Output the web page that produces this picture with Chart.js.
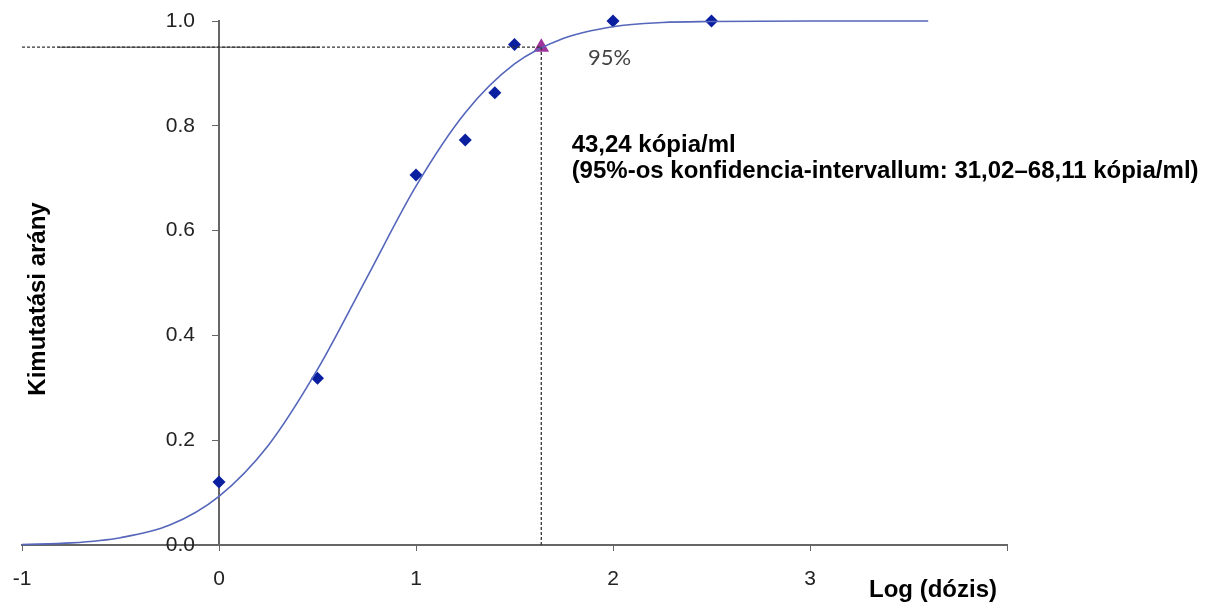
<!DOCTYPE html>
<html>
<head>
<meta charset="utf-8">
<script src="https://cdn.jsdelivr.net/npm/chart.js@4.4.0/dist/chart.umd.min.js"></script>
<style>
  body { margin: 0; background: #fff; }
  #wrap { width: 1206px; height: 603px; }
</style>
</head>
<body>
<div id="wrap"><canvas id="probit" width="1206" height="603"></canvas></div>
<script>
// fitted probit curve
const curveX = [-1, -0.75, -0.5, -0.25, 0, 0.25, 0.5, 0.75, 1, 1.25, 1.5, 1.75, 2, 2.25, 2.5, 3, 3.6];
const curveY = [0.001, 0.004, 0.014, 0.038, 0.093, 0.19, 0.335, 0.51, 0.685, 0.825, 0.918, 0.967, 0.989, 0.997, 0.999, 1.0, 1.0];

// measured hit rates
const logDose = [0, 0.5, 1, 1.25, 1.4, 1.5, 2, 2.5];
const hitRate = [0.12, 0.318, 0.706, 0.773, 0.863, 0.955, 1.0, 1.0];

// 95% point (log10 43,24)
const lodX = [1.636];
const lodY = [0.95];

const xMin = -1, xMax = 4;
const yMin = 0, yMax = 1;

const FONT = "'Liberation Sans', Arial, sans-serif";

// y axis sits at x=0, push its labels away from the line
const yLabelShift = {
  id: "yLabelShift",
  beforeDraw(chart) {
    const items = chart.scales.y.getLabelItems();
    if (items._shifted) return;
    items.forEach((it) => { it.options.translation[0] -= 24; });
    items._shifted = true;
  }
};

const textPlugin = {
  id: "texts",
  afterDraw(chart) {
    const ctx = chart.ctx;
    const xs = chart.scales.x, ys = chart.scales.y;
    ctx.save();
    ctx.fillStyle = "#000";
    ctx.textBaseline = "alphabetic";
    ctx.textAlign = "left";

    ctx.font = "bold 24px " + FONT;
    ctx.fillText("43,24 kópia/ml", xs.getPixelForValue(1.79), ys.getPixelForValue(0.75));
    ctx.fillText("(95%-os konfidencia-intervallum: 31,02–68,11 kópia/ml)", xs.getPixelForValue(1.79), ys.getPixelForValue(0.70));

    ctx.font = "22px Lato, 'Open Sans', sans-serif";
    ctx.fillStyle = "#444";
    ctx.textBaseline = "middle";
    ctx.fillText("95%", xs.getPixelForValue(1.873), ys.getPixelForValue(0.929));

    // axis titles
    ctx.fillStyle = "#000";
    ctx.font = "bold 24px " + FONT;
    ctx.textAlign = "center";
    ctx.textBaseline = "alphabetic";
    ctx.fillText("Log (dózis)", 933, 597);

    ctx.translate(38, 299);
    ctx.rotate(-Math.PI / 2);
    ctx.textBaseline = "middle";
    ctx.fillText("Kimutatási arány", 0, 0);
    ctx.restore();
  }
};

const data = {
  datasets: [
    {
      label: "ref-h",
      data: [{ x: xMin, y: lodY[0] }, { x: lodX[0], y: lodY[0] }],
      borderColor: "#333",
      borderWidth: 1.3,
      borderDash: [3, 2],
      pointRadius: 0,
      clip: false,
    },
    {
      label: "ref-h-solid",
      data: [{ x: -0.82, y: lodY[0] }, { x: 0.51, y: lodY[0] }],
      borderColor: "#444",
      borderWidth: 1,
      pointRadius: 0,
      clip: false,
    },
    {
      label: "ref-v",
      data: [{ x: lodX[0], y: yMin }, { x: lodX[0], y: lodY[0] }],
      borderColor: "#333",
      borderWidth: 1.3,
      borderDash: [3, 2],
      pointRadius: 0,
      clip: false,
    },
    {
      label: "probit",
      data: curveX.map((v, i) => ({ x: v, y: curveY[i] })),
      borderColor: "#5566bb",
      borderWidth: 1.6,
      cubicInterpolationMode: "monotone",
      pointRadius: 0,
      clip: false,
    },
    {
      label: "hit rate",
      type: "scatter",
      data: logDose.map((v, i) => ({ x: v, y: hitRate[i] })),
      pointStyle: "rectRot",
      pointRadius: 6.5,
      backgroundColor: "#0a1ea0",
      borderColor: "#0a1ea0",
      borderWidth: 0,
      clip: false,
    },
    {
      label: "95%",
      type: "scatter",
      data: lodX.map((v, i) => ({ x: v, y: lodY[i] })),
      pointStyle: "triangle",
      pointRadius: 9,
      backgroundColor: "#a0329c",
      borderColor: "#a0329c",
      borderWidth: 0,
      clip: false,
    },
  ],
};

const config = {
  type: "line",
  data: data,
  options: {
    responsive: false,
    animation: false,
    layout: {
      padding: { left: 22, right: 199, top: 21, bottom: 0 },
    },
    plugins: {
      legend: { display: false },
      tooltip: { enabled: false },
    },
    scales: {
      x: {
        type: "linear",
        position: "bottom",
        min: xMin,
        max: xMax,
        afterFit: (scale) => {
          scale.height = 58;
          scale.paddingLeft = 0;
          scale.paddingRight = 0;
        },
        grid: {
          drawOnChartArea: false,
          drawTicks: true,
          tickLength: 6,
          color: "#666",
        },
        border: { color: "#666", width: 2 },
        ticks: {
          stepSize: 1,
          padding: 16,
          color: "#222",
          font: { family: FONT, size: 21 },
          callback: (v) => (v === 4 ? "" : String(v)),
        },
      },
      y: {
        type: "linear",
        position: { x: 0 },
        min: yMin,
        max: yMax,
        afterFit: (scale) => {
          scale.paddingTop = 0;
          scale.paddingBottom = 0;
        },
        grid: {
          drawOnChartArea: false,
          drawTicks: true,
          tickLength: 6,
          color: "#666",
        },
        border: { color: "#666", width: 2 },
        ticks: {
          stepSize: 0.2,
          padding: 18,
          color: "#222",
          font: { family: FONT, size: 21 },
          callback: (v) => v.toFixed(1),
        },
      },
    },
  },
  plugins: [yLabelShift, textPlugin],
};

const probitChart = new Chart(document.getElementById("probit").getContext("2d"), config);
</script>
</body>
</html>
